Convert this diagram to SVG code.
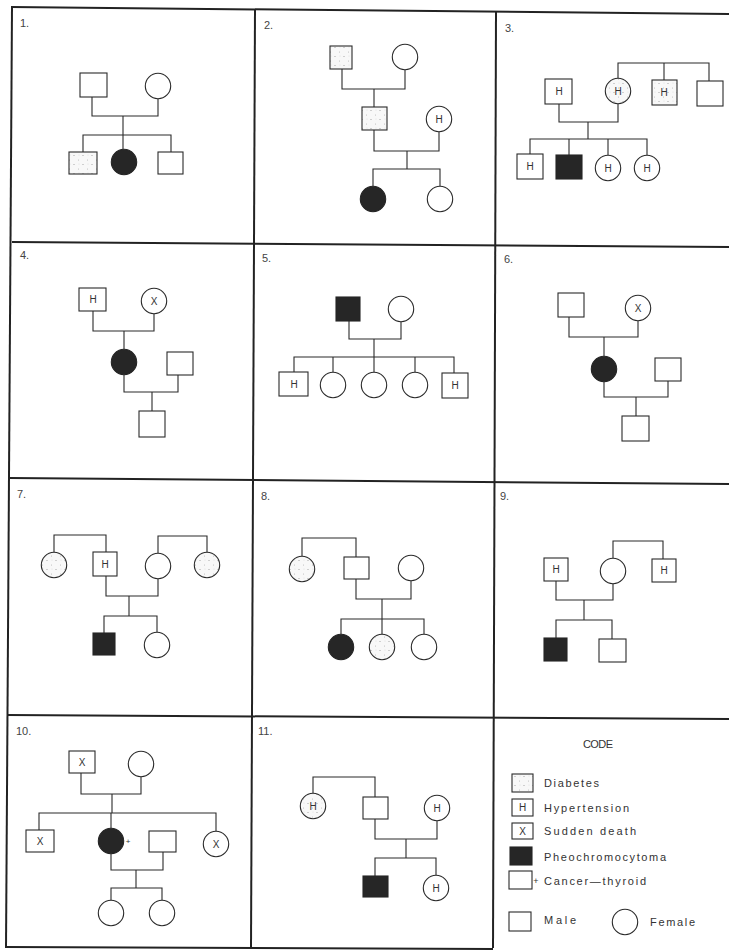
<svg xmlns="http://www.w3.org/2000/svg" width="729" height="951" viewBox="0 0 729 951">
<style>
.fr{stroke:#222;stroke-width:2;fill:none}
.ln{stroke:#2a2a2a;stroke-width:1.1;fill:none}
.o{fill:#fff;stroke:#2a2a2a;stroke-width:1.1}
.a{fill:#262626;stroke:#262626;stroke-width:1.1}
.d{fill:url(#stip);stroke:#2a2a2a;stroke-width:1.1}
.t{font-family:"Liberation Sans",Arial,sans-serif;font-size:10px;fill:#333;text-anchor:middle}
.n{font-family:"Liberation Sans",Arial,sans-serif;font-size:11px;fill:#444}
.lg{font-family:"Liberation Sans",Arial,sans-serif;font-size:11px;fill:#333}
</style>
<defs>
<pattern id="stip" width="9" height="9" patternUnits="userSpaceOnUse">
<rect width="9" height="9" fill="#f8f8f8"/>
<circle cx="2" cy="2.5" r="0.55" fill="#999"/>
<circle cx="6.5" cy="7" r="0.5" fill="#b0b0b0"/>
<circle cx="7" cy="2" r="0.4" fill="#c4c4c4"/>
</pattern>
</defs>
<rect width="729" height="951" fill="#fff"/>
<g id="frame">
<path class="fr" d="M11,7 L729,14"/>
<path class="fr" d="M12,7 L6,948"/>
<path class="fr" d="M255,9 L251,948"/>
<path class="fr" d="M496,12 L493,948"/>
<path class="fr" d="M12,242 L729,247"/>
<path class="fr" d="M10,478 L729,484"/>
<path class="fr" d="M7,715 L729,719"/>
<path class="fr" d="M6,947 L493,949"/>
</g>
<g id="panel-labels">
<text class="n" x="20" y="27">1.</text>
<text class="n" x="264" y="29">2.</text>
<text class="n" x="505" y="32">3.</text>
<text class="n" x="20" y="259">4.</text>
<text class="n" x="262" y="262">5.</text>
<text class="n" x="504" y="263">6.</text>
<text class="n" x="17" y="498">7.</text>
<text class="n" x="261" y="500">8.</text>
<text class="n" x="500" y="500">9.</text>
<text class="n" x="16" y="735">10.</text>
<text class="n" x="258" y="735">11.</text>
</g>
<g id="connectors">
<path class="ln" d="M92,97 V116 H158 V99"/>
<path class="ln" d="M123,116 V135"/>
<path class="ln" d="M83,152 V135 H171 V152"/>
<path class="ln" d="M123,135 V149"/>
<path class="ln" d="M342,69 V89 H405 V70"/>
<path class="ln" d="M374,89 V107"/>
<path class="ln" d="M374,130 V151 H439 V132"/>
<path class="ln" d="M407,151 V169"/>
<path class="ln" d="M373,186 V169 H440 V186"/>
<path class="ln" d="M618,78 V63 H709 V81"/>
<path class="ln" d="M664,63 V80"/>
<path class="ln" d="M559,104 V122 H618 V104"/>
<path class="ln" d="M588,122 V139"/>
<path class="ln" d="M530,154 V139 H647 V155"/>
<path class="ln" d="M569,139 V155"/>
<path class="ln" d="M608,139 V155"/>
<path class="ln" d="M93,311 V331 H154 V314"/>
<path class="ln" d="M124,331 V349"/>
<path class="ln" d="M124,375 V392 H178 V375"/>
<path class="ln" d="M152,392 V411"/>
<path class="ln" d="M349,321 V339 H401 V322"/>
<path class="ln" d="M374,339 V357"/>
<path class="ln" d="M294,372 V357 H454 V373"/>
<path class="ln" d="M333,357 V372"/>
<path class="ln" d="M374,357 V372"/>
<path class="ln" d="M415,357 V372"/>
<path class="ln" d="M569,317 V337 H638 V321"/>
<path class="ln" d="M604,337 V356"/>
<path class="ln" d="M604,382 V397 H668 V381"/>
<path class="ln" d="M636,397 V416"/>
<path class="ln" d="M54,552 V535 H106 V552"/>
<path class="ln" d="M158,553 V536 H207 V552"/>
<path class="ln" d="M106,576 V596 H158 V579"/>
<path class="ln" d="M129,596 V616"/>
<path class="ln" d="M104,633 V616 H157 V632"/>
<path class="ln" d="M302,556 V538 H356 V557"/>
<path class="ln" d="M356,579 V599 H411 V581"/>
<path class="ln" d="M382,599 V619"/>
<path class="ln" d="M341,634 V619 H424 V634"/>
<path class="ln" d="M382,619 V634"/>
<path class="ln" d="M613,558 V541 H663 V559"/>
<path class="ln" d="M556,581 V600 H613 V584"/>
<path class="ln" d="M584,600 V620"/>
<path class="ln" d="M556,638 V620 H612 V639"/>
<path class="ln" d="M81,773 V794 H141 V777"/>
<path class="ln" d="M112,794 V813"/>
<path class="ln" d="M39,830 V813 H216 V831"/>
<path class="ln" d="M111,813 V828"/>
<path class="ln" d="M111,854 V870 H163 V852"/>
<path class="ln" d="M136,870 V888"/>
<path class="ln" d="M111,900 V888 H162 V900"/>
<path class="ln" d="M313,793 V777 H375 V797"/>
<path class="ln" d="M375,819 V839 H437 V821"/>
<path class="ln" d="M406,839 V858"/>
<path class="ln" d="M375,876 V858 H436 V875"/>
</g>
<!-- Panel 1 -->
<g id="p1-father"><rect class="o" x="80" y="73" width="27" height="24"/></g>
<g id="p1-mother"><circle class="o" cx="158" cy="86" r="12.7"/></g>
<g id="p1-c1"><rect class="d" x="69" y="152" width="28" height="22"/></g>
<g id="p1-c2"><circle class="a" cx="124" cy="162" r="12.7"/></g>
<g id="p1-c3"><rect class="o" x="158" y="152" width="25" height="22"/></g>
<!-- Panel 2 -->
<g id="p2-gf"><rect class="d" x="330" y="46" width="22" height="23"/></g>
<g id="p2-gm"><circle class="o" cx="405" cy="57" r="12.7"/></g>
<g id="p2-father"><rect class="d" x="362" y="107" width="25" height="23"/></g>
<g id="p2-mother"><circle class="o" cx="439" cy="119" r="12.7"/><text class="t" x="439" y="122.5">H</text></g>
<g id="p2-c1"><circle class="a" cx="373" cy="199" r="12.7"/></g>
<g id="p2-c2"><circle class="o" cx="440" cy="199" r="12.7"/></g>
<!-- Panel 3 -->
<g id="p3-father"><rect class="o" x="545" y="79" width="27" height="25"/><text class="t" x="559" y="95">H</text></g>
<g id="p3-mother"><circle class="d" cx="618" cy="91" r="12.7"/><text class="t" x="618" y="94.5">H</text></g>
<g id="p3-uncle1"><rect class="d" x="652" y="80" width="25" height="25"/><text class="t" x="664" y="96">H</text></g>
<g id="p3-uncle2"><rect class="o" x="697" y="81" width="26" height="25"/></g>
<g id="p3-c1"><rect class="o" x="517" y="154" width="26" height="25"/><text class="t" x="530" y="170">H</text></g>
<g id="p3-c2"><rect class="a" x="556" y="155" width="26" height="24"/></g>
<g id="p3-c3"><circle class="o" cx="608" cy="168" r="12.7"/><text class="t" x="608" y="171.5">H</text></g>
<g id="p3-c4"><circle class="o" cx="647" cy="168" r="12.7"/><text class="t" x="647" y="171.5">H</text></g>
<!-- Panel 4 -->
<g id="p4-gf"><rect class="o" x="79" y="288" width="27" height="23"/><text class="t" x="93" y="303">H</text></g>
<g id="p4-gm"><circle class="o" cx="154" cy="301" r="12.7"/><text class="t" x="154" y="304.5">X</text></g>
<g id="p4-mother"><circle class="a" cx="124" cy="362" r="12.7"/></g>
<g id="p4-father"><rect class="o" x="167" y="352" width="26" height="23"/></g>
<g id="p4-child"><rect class="o" x="139" y="411" width="26" height="26"/></g>
<!-- Panel 5 -->
<g id="p5-father"><rect class="a" x="336" y="297" width="24" height="24"/></g>
<g id="p5-mother"><circle class="o" cx="401" cy="309" r="12.7"/></g>
<g id="p5-c1"><rect class="o" x="279" y="372" width="29" height="24"/><text class="t" x="294" y="387.5">H</text></g>
<g id="p5-c2"><circle class="o" cx="333" cy="385" r="12.7"/></g>
<g id="p5-c3"><circle class="o" cx="374" cy="385" r="12.7"/></g>
<g id="p5-c4"><circle class="o" cx="415" cy="385" r="12.7"/></g>
<g id="p5-c5"><rect class="o" x="442" y="373" width="26" height="25"/><text class="t" x="455" y="389">H</text></g>
<!-- Panel 6 -->
<g id="p6-gf"><rect class="o" x="558" y="293" width="26" height="24"/></g>
<g id="p6-gm"><circle class="o" cx="638" cy="308" r="12.7"/><text class="t" x="638" y="311.5">X</text></g>
<g id="p6-mother"><circle class="a" cx="604" cy="369" r="12.7"/></g>
<g id="p6-father"><rect class="o" x="655" y="358" width="26" height="23"/></g>
<g id="p6-child"><rect class="o" x="622" y="416" width="27" height="25"/></g>
<!-- Panel 7 -->
<g id="p7-aunt1"><circle class="d" cx="54" cy="565" r="12.7"/></g>
<g id="p7-father"><rect class="o" x="93" y="552" width="24" height="24"/><text class="t" x="105" y="567.5">H</text></g>
<g id="p7-mother"><circle class="o" cx="158" cy="566" r="12.7"/></g>
<g id="p7-aunt2"><circle class="d" cx="207" cy="565" r="12.7"/></g>
<g id="p7-c1"><rect class="a" x="93" y="633" width="22" height="22"/></g>
<g id="p7-c2"><circle class="o" cx="157" cy="645" r="12.7"/></g>
<!-- Panel 8 -->
<g id="p8-aunt"><circle class="d" cx="302" cy="569" r="12.7"/></g>
<g id="p8-father"><rect class="o" x="344" y="557" width="25" height="22"/></g>
<g id="p8-mother"><circle class="o" cx="411" cy="568" r="12.7"/></g>
<g id="p8-c1"><circle class="a" cx="341" cy="647" r="12.7"/></g>
<g id="p8-c2"><circle class="d" cx="382" cy="647" r="12.7"/></g>
<g id="p8-c3"><circle class="o" cx="424" cy="647" r="12.7"/></g>
<!-- Panel 9 -->
<g id="p9-father"><rect class="o" x="544" y="558" width="24" height="23"/><text class="t" x="556" y="573">H</text></g>
<g id="p9-mother"><circle class="o" cx="613" cy="571" r="12.7"/></g>
<g id="p9-uncle"><rect class="o" x="652" y="559" width="24" height="23"/><text class="t" x="664" y="574">H</text></g>
<g id="p9-c1"><rect class="a" x="544" y="638" width="23" height="23"/></g>
<g id="p9-c2"><rect class="o" x="599" y="639" width="27" height="23"/></g>
<!-- Panel 10 -->
<g id="p10-gf"><rect class="o" x="69" y="751" width="26" height="22"/><text class="t" x="82" y="765.5">X</text></g>
<g id="p10-gm"><circle class="o" cx="141" cy="764" r="12.7"/></g>
<g id="p10-s1"><rect class="o" x="26" y="830" width="28" height="22"/><text class="t" x="40" y="844.5">X</text></g>
<g id="p10-mother"><circle class="a" cx="111" cy="841" r="12.7"/><text class="t" x="128" y="844" style="font-size:8px">+</text></g>
<g id="p10-father"><rect class="o" x="149" y="831" width="27" height="21"/></g>
<g id="p10-s2"><circle class="o" cx="216" cy="844" r="12.7"/><text class="t" x="216" y="847.5">X</text></g>
<g id="p10-c1"><circle class="o" cx="111" cy="913" r="12.7"/></g>
<g id="p10-c2"><circle class="o" cx="162" cy="913" r="12.7"/></g>
<!-- Panel 11 -->
<g id="p11-aunt"><circle class="d" cx="313" cy="806" r="12.7"/><text class="t" x="313" y="809.5">H</text></g>
<g id="p11-father"><rect class="o" x="363" y="797" width="25" height="22"/></g>
<g id="p11-mother"><circle class="o" cx="437" cy="808" r="12.7"/><text class="t" x="437" y="811.5">H</text></g>
<g id="p11-c1"><rect class="a" x="363" y="876" width="25" height="21"/></g>
<g id="p11-c2"><circle class="o" cx="436" cy="888" r="12.7"/><text class="t" x="436" y="891.5">H</text></g>
<!-- Legend -->
<g id="legend">
<text class="lg" x="598" y="748" text-anchor="middle" textLength="30" lengthAdjust="spacing">CODE</text>
<rect class="d" x="512" y="774" width="21" height="18"/>
<text class="lg" x="544" y="787" textLength="55" lengthAdjust="spacing">Diabetes</text>
<rect class="o" x="512" y="799" width="21" height="17"/>
<text class="t" x="522.5" y="811">H</text>
<text class="lg" x="544" y="812" textLength="85" lengthAdjust="spacing">Hypertension</text>
<rect class="o" x="512" y="823" width="21" height="16"/>
<text class="t" x="522.5" y="835">X</text>
<text class="lg" x="544" y="835" textLength="92" lengthAdjust="spacing">Sudden death</text>
<rect class="a" x="510" y="847" width="22" height="18"/>
<text class="lg" x="544" y="861" textLength="122" lengthAdjust="spacing">Pheochromocytoma</text>
<rect class="o" x="509" y="871" width="23" height="18"/>
<text class="lg" x="536" y="884" text-anchor="middle" style="font-size:9px">+</text>
<text class="lg" x="544" y="885" textLength="102" lengthAdjust="spacing">Cancer—thyroid</text>
<rect class="o" x="509" y="912" width="22" height="19"/>
<text class="lg" x="544" y="924" textLength="32" lengthAdjust="spacing">Male</text>
<circle class="o" cx="625" cy="922" r="12.7"/>
<text class="lg" x="650" y="926" textLength="45" lengthAdjust="spacing">Female</text>
</g>
</svg>
